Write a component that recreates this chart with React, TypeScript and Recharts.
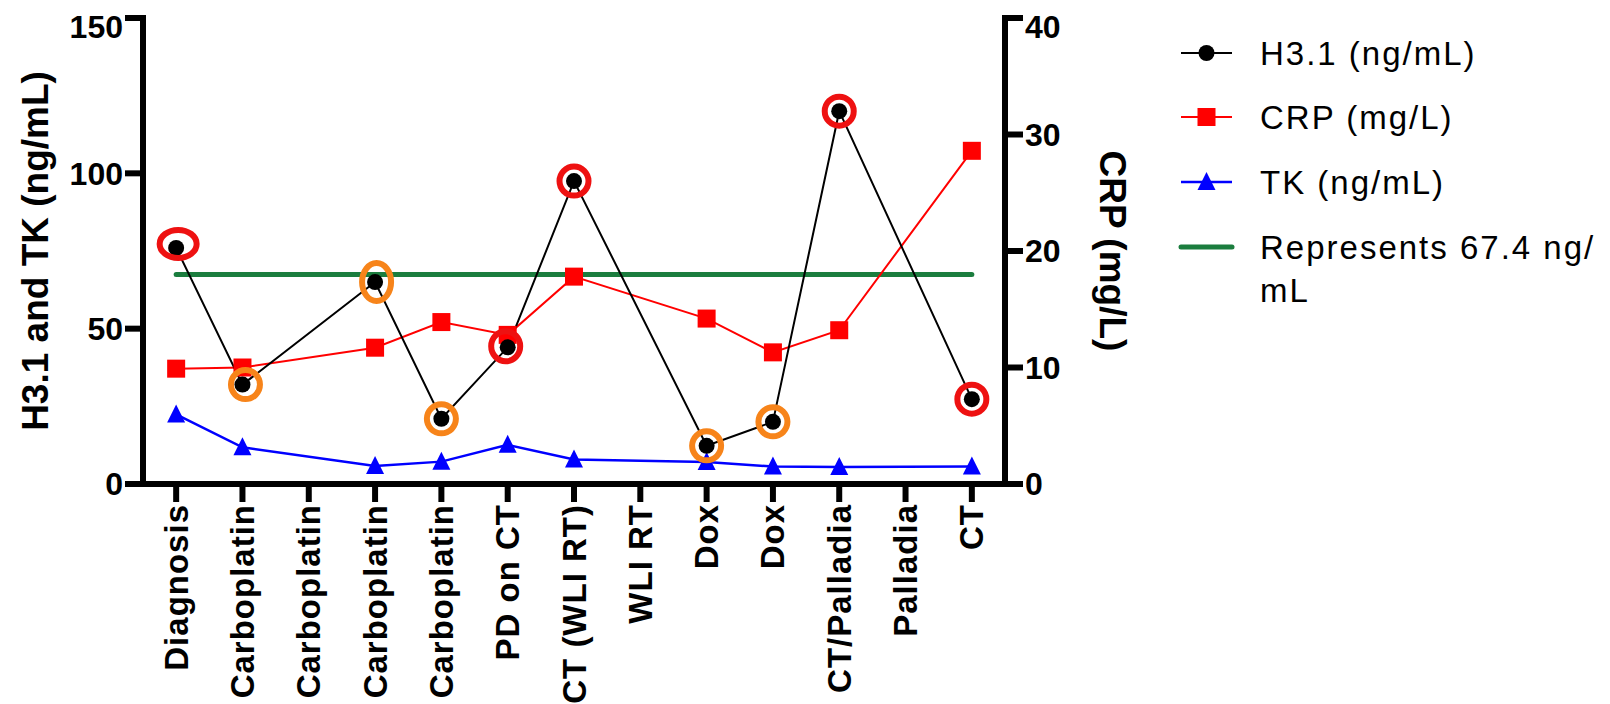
import React from 'react';
import { ComposedChart, Line, XAxis, YAxis, Legend } from 'recharts';

const FONT = "'Liberation Sans', Arial, Helvetica, sans-serif";

// ---- data ----
const categories = [
  'Diagnosis', 'Carboplatin', 'Carboplatin', 'Carboplatin', 'Carboplatin', 'PD on CT',
  'CT (WLI RT)', 'WLI RT', 'Dox', 'Dox', 'CT/Palladia', 'Palladia', 'CT',
];
const h31Values = [76, 32, null, 65, 21, 44, 97.5, null, 12.3, 20, 120, null, 27.3];
const crpValues = [9.9, 10.0, null, 11.7, 13.9, 12.8, 17.8, null, 14.2, 11.3, 13.2, null, 28.6];
const tkValues = [22.4, 11.8, null, 5.8, 7.2, 12.6, 7.9, null, 7.1, 5.6, 5.5, null, 5.6];
const thresholdValue = 67.4;
const highlightColors = ['red', 'orange', null, 'orange', 'orange', 'red', 'red', null, 'orange', 'orange', 'red', null, 'red'];
const leftTicks = [0, 50, 100, 150];
const rightTicks = [0, 10, 20, 30, 40];
const legendLabels = ['H3.1 (ng/mL)', 'CRP (mg/L)', 'TK (ng/mL)', 'Represents 67.4 ng/', 'mL'];

const data = categories.map((label, i) => ({
  idx: i,
  label,
  h31: h31Values[i],
  crp: crpValues[i],
  tk: tkValues[i],
  threshold: thresholdValue,
}));

// ---- styles ----
const ringColor: Record<string, string> = { red: '#ee1111', orange: '#f7841a' };
const defaultRing = { rx: 14.5, ry: 14.5, dx: 0, dy: 0 };
const ringShape: Record<number, { rx: number; ry: number; dx: number; dy: number }> = {
  0: { rx: 18.5, ry: 14, dx: 2, dy: -4 },
  1: { rx: 14.5, ry: 14.5, dx: 3, dy: 0 },
  3: { rx: 14.5, ry: 19, dx: 1.5, dy: 0 },
  5: { rx: 14.5, ry: 15, dx: -2, dy: -1 },
};
const GREEN = '#1b7d3e';

const H31Dot = (props: any) => {
  const { cx, cy, index, value } = props;
  if (cx == null || cy == null || value == null) return <g key={`h${index}`} />;
  const hc = highlightColors[index];
  const s = ringShape[index] || defaultRing;
  return (
    <g key={`h${index}`}>
      <circle cx={cx} cy={cy} r={8} fill="#000" />
      {hc && (
        <ellipse cx={cx + s.dx} cy={cy + s.dy} rx={s.rx} ry={s.ry} fill="none" stroke={ringColor[hc]} strokeWidth={6} />
      )}
    </g>
  );
};

const SquareDot = (props: any) => {
  const { cx, cy, index, value } = props;
  if (cx == null || cy == null || value == null) return <g key={`s${index}`} />;
  return <rect key={`s${index}`} x={cx - 9} y={cy - 9} width={18} height={18} fill="#ff0000" />;
};

const TriangleDot = (props: any) => {
  const { cx, cy, index, value } = props;
  if (cx == null || cy == null || value == null) return <g key={`t${index}`} />;
  return <polygon key={`t${index}`} points={`${cx},${cy - 10} ${cx - 9},${cy + 8} ${cx + 9},${cy + 8}`} fill="#0000ff" />;
};

const XTick = (props: any) => {
  const { x, y, payload } = props;
  return (
    <text
      x={x}
      y={y}
      transform={`rotate(-90, ${x}, ${y})`}
      textAnchor="end"
      dy="0.35em"
      fontSize={33}
      fontWeight="bold"
      letterSpacing={1}
      fontFamily={FONT}
      fill="#000"
    >
      {categories[payload.value]}
    </text>
  );
};

const LeftTitle = (props: any) => {
  const vb = props.viewBox || { x: 0, y: 0, width: 0, height: 0 };
  const cx = vb.x + 27;
  const cy = vb.y + vb.height / 2;
  return (
    <text x={cx} y={cy} transform={`rotate(-90, ${cx}, ${cy})`} textAnchor="middle" dy="0.35em"
      fontSize={37} fontWeight="bold" fontFamily={FONT} fill="#000">
      H3.1 and TK (ng/mL)
    </text>
  );
};

const RightTitle = (props: any) => {
  const vb = props.viewBox || { x: 0, y: 0, width: 0, height: 0 };
  const cx = vb.x + 108;
  const cy = vb.y + vb.height / 2;
  return (
    <text x={cx} y={cy} transform={`rotate(90, ${cx}, ${cy})`} textAnchor="middle" dy="0.35em"
      fontSize={37} fontWeight="bold" fontFamily={FONT} fill="#000">
      CRP (mg/L)
    </text>
  );
};

const LegendContent = () => {
  const rows = [45, 109, 174, 239];
  const textX = 87;
  const textProps = { fontSize: 33, fontFamily: FONT, fill: '#000', letterSpacing: 2, dominantBaseline: 'central' as const };
  return (
    <svg width={445} height={310}>
      <line x1={8} x2={59} y1={rows[0]} y2={rows[0]} stroke="#000" strokeWidth={2} />
      <circle cx={33.5} cy={rows[0]} r={8} fill="#000" />
      <text x={textX} y={rows[0]} {...textProps}>{legendLabels[0]}</text>
      <line x1={8} x2={59} y1={rows[1]} y2={rows[1]} stroke="#ff0000" strokeWidth={2} />
      <rect x={24.5} y={rows[1] - 9} width={18} height={18} fill="#ff0000" />
      <text x={textX} y={rows[1]} {...textProps}>{legendLabels[1]}</text>
      <line x1={8} x2={59} y1={rows[2]} y2={rows[2]} stroke="#0000ff" strokeWidth={2.5} />
      <polygon points={`33.5,${rows[2] - 10} 24.5,${rows[2] + 8} 42.5,${rows[2] + 8}`} fill="#0000ff" />
      <text x={textX} y={rows[2]} {...textProps}>{legendLabels[2]}</text>
      <line x1={8} x2={59} y1={rows[3]} y2={rows[3]} stroke={GREEN} strokeWidth={5} strokeLinecap="round" />
      <text x={textX} y={rows[3]} {...textProps}>{legendLabels[3]}</text>
      <text x={textX} y={rows[3] + 43} {...textProps}>{legendLabels[4]}</text>
    </svg>
  );
};

const axisLine = { stroke: '#000', strokeWidth: 6, strokeLinecap: 'square' as const };
const tickLine = { stroke: '#000', strokeWidth: 6 };
const tickStyle = { fill: '#000', fontSize: 32, fontWeight: 'bold', fontFamily: FONT };

export default function App() {
  return (
    <div style={{ width: 1600, height: 696, background: '#fff' }}>
      <ComposedChart
        width={1600}
        height={696}
        data={data}
        margin={{ top: 10, right: 463, bottom: 20, left: 0 }}
      >
        <XAxis
          dataKey="idx"
          type="category"
          scale="band"
          interval={0}
          height={200}
          tick={<XTick />}
          tickSize={18}
          axisLine={axisLine}
          tickLine={tickLine}
        />
        <YAxis
          yAxisId="left"
          orientation="left"
          width={135}
          domain={[0, 150]}
          ticks={leftTicks}
          tickSize={18}
          axisLine={axisLine}
          tickLine={tickLine}
          tick={tickStyle}
          label={(p: any) => <LeftTitle {...p} />}
        />
        <YAxis
          yAxisId="right"
          orientation="right"
          width={140}
          domain={[0, 40]}
          ticks={rightTicks}
          tickSize={18}
          axisLine={axisLine}
          tickLine={tickLine}
          tick={tickStyle}
          label={(p: any) => <RightTitle {...p} />}
        />
        <Legend
          layout="horizontal"
          verticalAlign="middle"
          align="center"
          content={() => <LegendContent />}
          wrapperStyle={{ left: 1165, top: 0, width: 445, height: 310 }}
        />
        <Line
          yAxisId="left"
          dataKey="threshold"
          stroke={GREEN}
          strokeWidth={5}
          strokeLinecap="round"
          dot={false}
          activeDot={false}
          isAnimationActive={false}
          legendType="none"
        />
        <Line
          yAxisId="left"
          dataKey="tk"
          stroke="#0000ff"
          strokeWidth={2.5}
          connectNulls
          dot={TriangleDot}
          activeDot={false}
          isAnimationActive={false}
        />
        <Line
          yAxisId="right"
          dataKey="crp"
          stroke="#ff0000"
          strokeWidth={2}
          connectNulls
          dot={SquareDot}
          activeDot={false}
          isAnimationActive={false}
        />
        <Line
          yAxisId="left"
          dataKey="h31"
          stroke="#000"
          strokeWidth={2}
          connectNulls
          dot={H31Dot}
          activeDot={false}
          isAnimationActive={false}
        />
      </ComposedChart>
    </div>
  );
}
